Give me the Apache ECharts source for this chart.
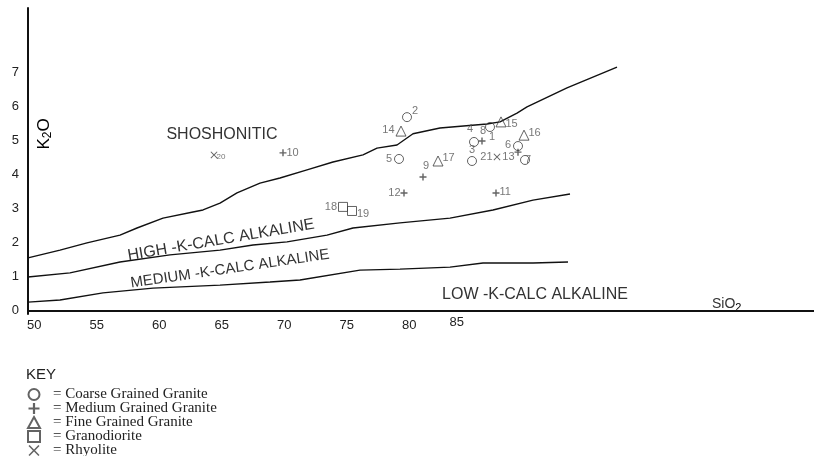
<!DOCTYPE html>
<html>
<head>
<meta charset="utf-8">
<script src="https://cdn.jsdelivr.net/npm/echarts@6/dist/echarts.min.js"></script>
<style>html,body{margin:0;padding:0;background:#fff;}#c{width:814px;height:456px;}</style>
</head>
<body>
<div id="c"></div>
<script>
// ---- data (SiO2, K2O) ----
const xTickValues = [50, 55, 60, 65, 70, 75, 80, 85];
const yTickValues = [0, 1, 2, 3, 4, 5, 6, 7];

const shoshoniticBoundary = [[49.5,1.55],[52.06,1.78],[54.22,1.99],[56.86,2.22],[58.22,2.43],[60.3,2.72],[62.7,2.9],[63.5,2.96],[64.86,3.16],[66.22,3.46],[68.06,3.75],[69.66,3.9],[71.82,4.14],[73.9,4.37],[76.3,4.58],[77.42,4.78],[79.02,4.87],[80.3,5.2],[82.46,5.37],[86.22,5.49],[87.26,5.55],[88.62,5.81],[89.42,5.99],[92.62,6.55],[96.62,7.16]];
const highKBoundary = [[49.5,0.99],[52.86,1.11],[56.86,1.43],[60.86,1.64],[64.86,1.78],[67.5,1.93],[70.22,2.02],[73.42,2.22],[75.5,2.43],[79.26,2.58],[83.26,2.72],[86.7,2.96],[89.9,3.25],[92.86,3.43]];
const mediumKBoundary = [[49.5,0.25],[52.06,0.31],[55.5,0.52],[59.5,0.66],[64.86,0.75],[68.86,0.84],[71.26,0.9],[76.06,1.19],[79.26,1.22],[83.26,1.28],[85.9,1.4],[89.9,1.4],[92.7,1.43]];

// [SiO2, K2O, sample number]
const coarseGrained = [[79.82,5.69,'2'],[79.18,4.46,'5'],[85.18,4.96,'4'],[86.46,5.4,'1'],[88.7,4.84,'6'],[89.26,4.43,'7'],[85.02,4.4,'3']];
const mediumGrained = [[81.1,3.93,'9'],[79.58,3.46,'12'],[85.82,4.99,'8'],[88.7,4.66,'13'],[86.94,3.46,'11'],[69.9,4.64,'10']];
const fineGrained = [[79.34,5.28,'14'],[82.3,4.4,'17'],[87.34,5.55,'15'],[89.18,5.16,'16']];
const granodiorite = [[74.7,3.05,'18'],[75.42,2.93,'19']];
const rhyolite = [[87.02,4.52,'21'],[64.38,4.58,'20']];

// ---- label placement (style) ----
const labelPlace = {
  '2': ['right', [-2, -6]], '5': ['left', [0, 0]], '4': ['top', [-4, 0]], '1': ['bottom', [2, -3]],
  '6': ['left', [0, -1]], '7': ['right', [-7, 0]], '3': ['top', [0, 1]],
  '9': ['top', [3, 0]], '12': ['left', [2, 0]], '8': ['top', [1, 1]], '13': ['left', [2, 5]],
  '11': ['right', [-2, -1]], '10': ['right', [-2, 0]],
  '14': ['left', [1, -1]], '17': ['right', [-3, -3]], '15': ['right', [-3, 2]], '16': ['right', [-3, -2]],
  '18': ['left', [1, 0]], '19': ['right', [-2, 3]],
  '21': ['left', [1, 0]], '20': ['right', [-3, 2]]
};

const INK = '#3c3c3c';
const plusPath = 'path://M4,0h2v4h4v2h-4v4h-2v-4h-4v-2h4z';
const xPath = 'path://M0,1L1,0L5,4L9,0L10,1L6,5L10,9L9,10L5,6L1,10L0,9L4,5Z';

function pts(arr) {
  return arr.map(p => {
    const pl = labelPlace[p[2]] || ['right', [0, 0]];
    const d = { value: [p[0], p[1]], name: p[2], label: { position: pl[0], offset: pl[1] } };
    if (p[2] === '20') d.label.fontSize = 8;
    return d;
  });
}

function scatter(name, arr, symbol, size, filled) {
  return {
    name: name, type: 'scatter', data: pts(arr), symbol: symbol, symbolSize: size,
    itemStyle: filled ? { color: INK, borderWidth: 0 } : { color: 'rgba(255,255,255,0)', borderColor: INK, borderWidth: 1 },
    label: { show: true, formatter: p => p.name, color: '#555', fontSize: 11, fontFamily: 'Liberation Sans, Arial, sans-serif', distance: 2 },
    z: 5
  };
}

function curve(data) {
  return { type: 'line', data: data, showSymbol: false, symbol: 'none', lineStyle: { color: '#111', width: 1.4 }, silent: true, z: 3 };
}

const chart = echarts.init(document.getElementById('c'), null, { renderer: 'canvas' });
chart.setOption({
  animation: false,
  backgroundColor: '#fff',
  grid: { left: 28, right: 0, top: 8, bottom: 142, containLabel: false },
  xAxis: {
    type: 'value', min: 49.5, max: 112.38,
    axisLine: { show: true, lineStyle: { color: '#111', width: 2 } },
    axisTick: { show: false }, splitLine: { show: false },
    axisLabel: {
      customValues: xTickValues, margin: 5, color: '#222', fontSize: 13, fontFamily: 'Liberation Sans, Arial, sans-serif',
      formatter: v => v === 85 ? '{s|85}' : String(v),
      rich: { s: { padding: [0, 30, 0, 0], lineHeight: 6, fontSize: 13, color: '#222', fontFamily: 'Liberation Sans, Arial, sans-serif' } }
    }
  },
  yAxis: {
    type: 'value', min: -0.1, max: 8.9,
    axisLine: { show: true, onZero: false, lineStyle: { color: '#111', width: 2 } },
    axisTick: { show: false }, splitLine: { show: false },
    axisLabel: { customValues: yTickValues, margin: 9, color: '#222', fontSize: 13, fontFamily: 'Liberation Sans, Arial, sans-serif' }
  },
  legend: {
    orient: 'vertical', left: 27, top: 387, height: 100, itemGap: -1, itemWidth: 12, itemHeight: 11, padding: 0,
    data: ['Coarse Grained Granite', 'Medium Grained Granite', 'Fine Grained Granite', 'Granodiorite', 'Rhyolite'],
    formatter: n => '{t|= ' + n + '}',
    textStyle: { lineHeight: 12, rich: { t: { fontFamily: 'Liberation Serif, Times New Roman, serif', fontSize: 15, color: '#222', padding: [0, 0, 0, 8], lineHeight: 12 } } }
  },
  series: [
    curve(shoshoniticBoundary), curve(highKBoundary), curve(mediumKBoundary),
    scatter('Coarse Grained Granite', coarseGrained, 'circle', 9, false),
    scatter('Medium Grained Granite', mediumGrained, plusPath, 7, true),
    scatter('Fine Grained Granite', fineGrained, 'triangle', 10, false),
    scatter('Granodiorite', granodiorite, 'rect', 9, false),
    scatter('Rhyolite', rhyolite, xPath, 7, true)
  ],
  graphic: [
    { type: 'text', x: 222, y: 135, style: { text: 'SHOSHONITIC', font: '16px "Liberation Sans", Arial, sans-serif', fill: '#333', align: 'center', verticalAlign: 'middle' } },
    { type: 'text', x: 221, y: 240, rotation: 0.168, style: { text: 'HIGH -K-CALC ALKALINE', font: '16px "Liberation Sans", Arial, sans-serif', fill: '#333', align: 'center', verticalAlign: 'middle' } },
    { type: 'text', x: 230, y: 269, rotation: 0.145, style: { text: 'MEDIUM -K-CALC ALKALINE', font: '15px "Liberation Sans", Arial, sans-serif', fill: '#333', align: 'center', verticalAlign: 'middle' } },
    { type: 'text', x: 535, y: 295, style: { text: 'LOW -K-CALC ALKALINE', font: '16px "Liberation Sans", Arial, sans-serif', fill: '#333', align: 'center', verticalAlign: 'middle' } },
    { type: 'text', x: 712, y: 304, style: { text: '{a|SiO}{b|2}', align: 'left', verticalAlign: 'middle', rich: { a: { fontSize: 14, fontFamily: 'Liberation Sans, Arial, sans-serif', fill: '#333', color: '#333' }, b: { fontSize: 11, fontFamily: 'Liberation Sans, Arial, sans-serif', color: '#333', padding: [8, 0, 0, 0] } } } },
    { type: 'text', x: 44, y: 134, rotation: Math.PI / 2, style: { text: '{a|K}{b|2}{a|O}', align: 'center', verticalAlign: 'middle', rich: { a: { fontSize: 17, fontFamily: 'Liberation Sans, Arial, sans-serif', color: '#333' }, b: { fontSize: 12, fontFamily: 'Liberation Sans, Arial, sans-serif', color: '#333', padding: [8, 0, 0, 0] } } } },
    { type: 'text', x: 26, y: 375, style: { text: 'KEY', font: '15px "Liberation Sans", Arial, sans-serif', fill: '#222', align: 'left', verticalAlign: 'middle' } }
  ]
});
</script>
</body>
</html>
